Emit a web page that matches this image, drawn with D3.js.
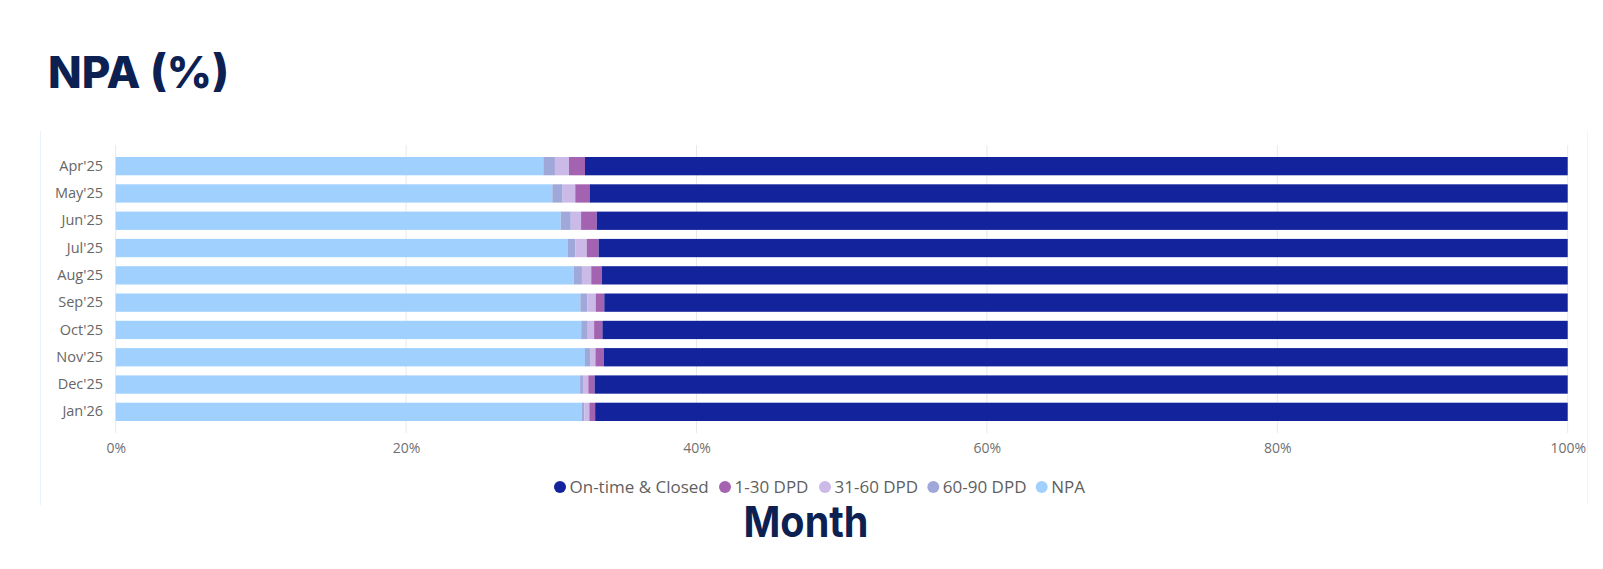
<!DOCTYPE html>
<html>
<head>
<meta charset="utf-8">
<script src="https://cdn.jsdelivr.net/npm/d3@7"></script>
<style>
  html, body { margin: 0; padding: 0; background: #ffffff; }
  svg { display: block; }
</style>
</head>
<body>
<svg id="chart" width="1603" height="569"></svg>
<script>
// ---- data ----
const months = ["Apr'25","May'25","Jun'25","Jul'25","Aug'25","Sep'25","Oct'25","Nov'25","Dec'25","Jan'26"];
const npa      = [29.45, 30.07, 30.65, 31.15, 31.54, 32.00, 32.06, 32.32, 31.98, 32.09];
const dpd60_90 = [0.80, 0.71, 0.69, 0.50, 0.57, 0.48, 0.45, 0.39, 0.20, 0.19];
const dpd31_60 = [0.97, 0.87, 0.71, 0.79, 0.64, 0.58, 0.44, 0.33, 0.37, 0.34];
const dpd1_30  = [1.10, 0.99, 1.08, 0.82, 0.72, 0.59, 0.57, 0.57, 0.43, 0.40];
const onTime   = [67.68, 67.36, 66.87, 66.74, 66.53, 66.35, 66.48, 66.39, 67.02, 66.98];
const xTicks = [0, 20, 40, 60, 80, 100];
const legendNames = ["On-time & Closed", "1-30 DPD", "31-60 DPD", "60-90 DPD", "NPA"];

// ---- build table ----
const keys = ["npa","d60","d31","d1","ontime"];
const table = months.map((m, i) => ({
  month: m, npa: npa[i], d60: dpd60_90[i], d31: dpd31_60[i], d1: dpd1_30[i], ontime: onTime[i]
}));
const colors = { ontime: "#13239c", d1: "#a463b0", d31: "#cbb9e8", d60: "#a0a8da", npa: "#a0d0fd" };
const legendKeys = ["ontime","d1","d31","d60","npa"];

const svg = d3.select("#chart");

// faint frame
svg.append("line").attr("x1", 40.5).attr("x2", 40.5).attr("y1", 131).attr("y2", 505)
  .attr("stroke", "#eaf3fc").attr("stroke-width", 1);
svg.append("line").attr("x1", 1587.5).attr("x2", 1587.5).attr("y1", 131).attr("y2", 505)
  .attr("stroke", "#f4f4f4").attr("stroke-width", 1);

// title
svg.append("text").attr("x", 48).attr("y", 87.5)
  .attr("font-family", "Inter, 'Noto Sans', sans-serif").attr("font-weight", 800)
  .attr("font-size", 44).attr("fill", "#0c2152").text("NPA (%)");

const x = d3.scaleLinear().domain([0, 100]).range([115.7, 1567.7]);
const y = d3.scaleBand().domain(months).range([145, 433]).paddingInner(0.33).paddingOuter(0.44);

// gridlines
svg.append("g").selectAll("line").data(xTicks).join("line")
  .attr("x1", d => x(d)).attr("x2", d => x(d)).attr("y1", 145).attr("y2", 433)
  .attr("stroke", "#e9e9e9").attr("stroke-width", 1);

// x-axis labels
const xAxis = d3.axisBottom(x).tickValues(xTicks).tickFormat(d => d + "%").tickSize(0).tickPadding(0);
const gx = svg.append("g").attr("transform", "translate(0,443)").call(xAxis);
gx.select(".domain").remove();
gx.selectAll("text").attr("font-family", "'Open Sans', 'Noto Sans', sans-serif")
  .attr("font-size", 14).attr("fill", "#707070").attr("dy", "0.71em");

// y-axis labels
const yAxis = d3.axisLeft(y).tickSize(0).tickPadding(0);
const gy = svg.append("g").attr("transform", "translate(103,0)").call(yAxis);
gy.select(".domain").remove();
gy.selectAll("text").attr("font-family", "'Open Sans', 'Noto Sans', sans-serif")
  .attr("font-size", 14.5).attr("fill", "#666666");

// stacked bars
const stack = d3.stack().keys(keys);
const series = stack(table);
svg.append("g").selectAll("g").data(series).join("g")
  .attr("fill", s => colors[s.key])
  .selectAll("rect").data(s => s).join("rect")
  .attr("x", d => x(d[0]))
  .attr("width", d => x(d[1]) - x(d[0]))
  .attr("y", d => y(d.data.month))
  .attr("height", y.bandwidth());

// legend
const legendX = [560, 725, 825, 933.3, 1041.7];
const lg = svg.append("g");
legendKeys.forEach((k, i) => {
  lg.append("circle").attr("cx", legendX[i]).attr("cy", 487).attr("r", 6).attr("fill", colors[k]);
  lg.append("text").attr("x", legendX[i] + 9.5).attr("y", 487).attr("dy", "0.35em")
    .attr("font-family", "'Open Sans', 'Noto Sans', sans-serif").attr("font-size", 17)
    .attr("fill", "#5f5f5f").text(legendNames[i]);
});

// x-axis title
svg.append("text").attr("x", 743.5).attr("y", 537)
  .attr("textLength", 125).attr("lengthAdjust", "spacingAndGlyphs")
  .attr("font-family", "Inter, 'Noto Sans', sans-serif").attr("font-weight", 700)
  .attr("font-size", 43).attr("fill", "#0c2152").text("Month");
</script>
</body>
</html>
